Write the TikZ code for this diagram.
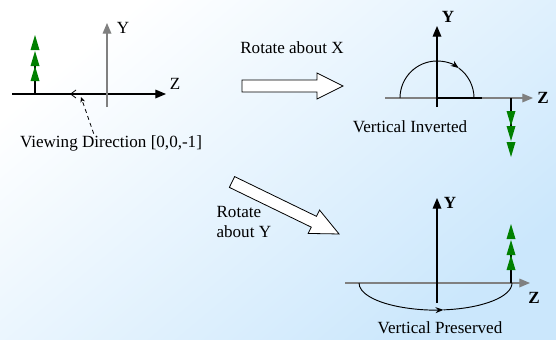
\documentclass[tikz,border=0pt]{standalone}
\usepackage{fontspec}
\setmainfont{Liberation Serif}
\usepackage{tikz}
\usetikzlibrary{arrows.meta, positioning, calc}
\definecolor{bgblue}{RGB}{203,231,252}
\definecolor{leafgreen}{RGB}{0,128,0}
\newcommand{\treemark}[3]{% x, base y, direction (1 up, -1 down)
  \draw[trunk] ({#1},{#2}) -- ({#1},{#2-(#3)*40});
  \foreach \t in {0,16,31}
    \fill[leaf] ({#1},{#2-(#3)*59+(#3)*\t}) -- ++(4.5,{(#3)*15}) -- ++(-9,0) -- cycle;
}

\begin{document}
\begin{tikzpicture}[
    x=0.75pt, y=-0.75pt,
    lbl/.style={font=\fontsize{12.8}{15}\selectfont, inner sep=1pt},
    axlbl/.style={lbl, font=\fontsize{12.8}{15}\selectfont\bfseries},
    axis/.style={line width=0.9pt, -{Triangle[length=8pt,width=6.5pt]}},
    trunk/.style={line width=2.2pt, black},
    leaf/.style={fill=leafgreen},
    turn/.style={line width=0.7pt},
    blockarrow/.style={draw=black, fill=white, line width=0.6pt, line join=miter},
    leader/.style={line width=0.6pt, dash pattern=on 3pt off 2.5pt, -{Stealth[length=4pt,width=3.5pt]}}
]
\shade[left color=white, right color=bgblue, shading angle=40] (0,0) rectangle (556,339);
\useasboundingbox (0,0) rectangle (556,339);

% start position
\coordinate (O1) at (107,94);
\draw[axis] (12,94) -- (166,94);
\draw[axis, gray] (107,107) -- (107,23);
\node[lbl] (Y1) at (123,28) {Y};
\node[lbl] (Z1) at (175,84) {Z};
\treemark{35}{94}{1}
\draw[line width=0.6pt, -{Straight Barb[length=4pt,width=6pt]}] (84,94) -- (70,94);
\coordinate (vd) at (81,97);
\node[lbl] (vdlabel) at (111,143) {Viewing Direction [0,0,-1]};
\draw[leader] ([xshift=-13pt]vdlabel.north) -- (vd);

% rotate about X
\draw[blockarrow] (242,80) -- (317,80) -- (317,73) -- (343,86) -- (317,99) -- (317,92) -- (242,92) -- cycle;
\node[lbl] (rotx) at (292,48) {Rotate about X};

\draw[axis, gray] (385,98) -- (533,98);
\draw[line width=0.9pt] (437,98) -- (482,98);
\draw[axis] (437,107) -- (437,26);
\node[axlbl] (Y2) at (448,17) {Y};
\node[axlbl] (Z2) at (543,98) {Z};
\draw[turn, -{Stealth[length=6pt,width=4.5pt]}] (400,98) arc[start angle=180, end angle=306, radius=37];
\draw[turn] (437,98) ++(306:37) arc[start angle=306, end angle=360, radius=37];
\treemark{511}{98}{-1}
\node[lbl] (inv) at (410,127) {Vertical Inverted};

% rotate about Y
\begin{scope}[shift={(232,182)}, rotate=-25.9]
\draw[blockarrow] (0,-6) -- (91,-6) -- (91,-13) -- (119,0) -- (91,13) -- (91,6) -- (0,6) -- cycle;
\end{scope}
\node[lbl, align=left, anchor=west] (roty) at (215,222) {Rotate\\about Y};

\draw[axis, gray] (345,283) -- (530,283);
\draw[axis] (437,303) -- (437,198);
\node[axlbl] (Y3) at (450,203) {Y};
\node[axlbl] (Z3) at (534,298) {Z};
\draw[turn, -{Stealth[length=6pt,width=4.5pt]}] (359,283) arc[start angle=180, end angle=84, x radius=76.5, y radius=27];
\draw[turn] (435.5,283) ++(84:76.5 and 27) arc[start angle=84, end angle=0, x radius=76.5, y radius=27];
\treemark{511}{283}{1}
\node[lbl] (pres) at (440,328) {Vertical Preserved};
\end{tikzpicture}
\end{document}
